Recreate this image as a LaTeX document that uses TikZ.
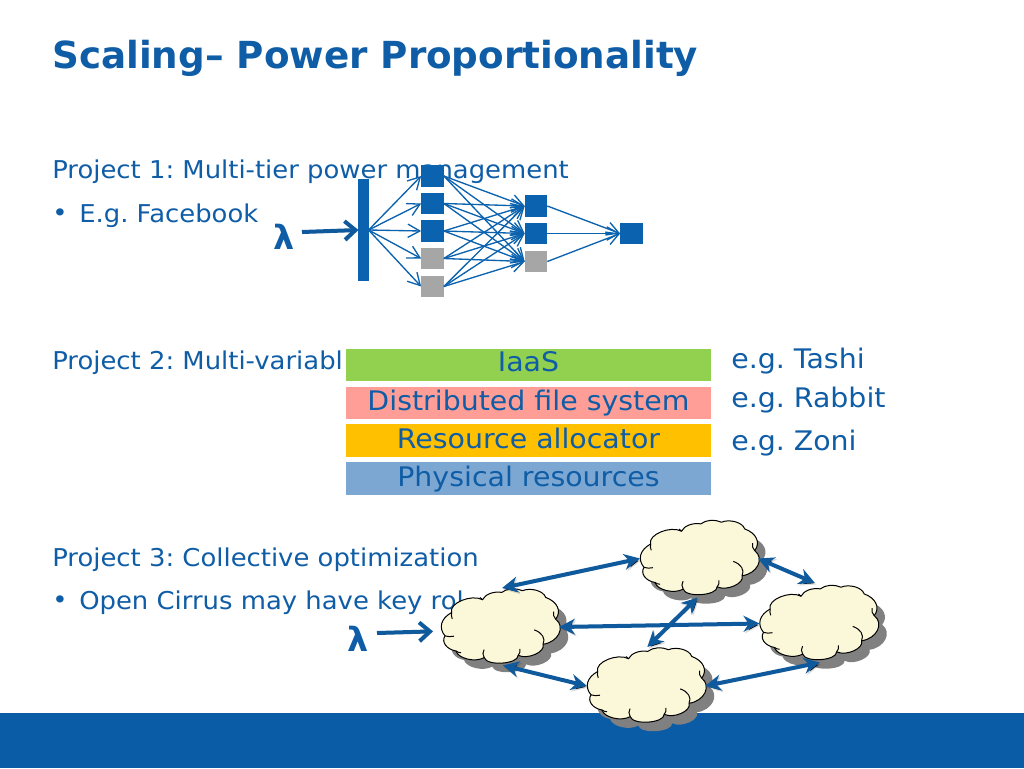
\documentclass[tikz,border=0pt]{standalone}
\usepackage{fontspec}
\setmainfont{DejaVu Sans}
\newfontfamily\vfont[FakeStretch=1.055]{DejaVu Sans}
\usetikzlibrary{arrows.meta,calc}
\definecolor{bluetxt}{HTML}{0F5DA6}
\definecolor{blueband}{HTML}{0B5CA6}
\definecolor{bluesq}{HTML}{0B62AE}
\definecolor{bluearr}{HTML}{0F5A9C}
\definecolor{graysq}{HTML}{A6A6A6}
\definecolor{cloudfill}{HTML}{FBF7D9}
\definecolor{cloudshadow}{HTML}{808080}
\definecolor{layerA}{RGB}{146,208,80}
\definecolor{layerB}{RGB}{255,158,150}
\definecolor{layerC}{RGB}{255,192,0}
\definecolor{layerD}{RGB}{124,167,210}
\tikzset{
  x=0.75pt,y=-0.75pt,
  txt/.style={anchor=base west,inner sep=0pt,text=bluetxt,font=\vfont\frenchspacing\fontsize{18.4}{20}\selectfont},
  bigtxt/.style={anchor=base west,inner sep=0pt,text=bluetxt,font=\vfont\frenchspacing\fontsize{20.2}{22}\selectfont},
  titletxt/.style={anchor=base west,inner sep=0pt,text=bluetxt,font=\frenchspacing\fontsize{27.95}{30}\selectfont\bfseries},
  lam/.style={anchor=base,inner sep=0pt,text=bluetxt,font=\fontsize{25}{27}\selectfont\bfseries},
  sq/.style={draw=none,fill=#1,minimum width=17pt,minimum height=16pt,inner sep=0pt,outer sep=0pt},
  bar/.style={fill=bluesq,minimum width=7.6pt,minimum height=76pt,inner sep=0pt,outer sep=0pt},
  layerbox/.style={fill=#1,minimum width=274pt,minimum height=24.5pt,inner sep=0pt,outer sep=0pt},
  layertxt/.style={anchor=base,inner sep=0pt,text=bluetxt,font=\vfont\frenchspacing\fontsize{20.2}{22}\selectfont},
  thin arrow/.style={draw=bluesq,line width=1pt,-{Straight Barb[length=9pt,width=10pt,line width=1pt]}},
  soft/.style={preaction={draw=black,draw opacity=.14,transform canvas={xshift=1pt,yshift=-1.2pt}}},
  big arrow/.style={soft,draw=bluearr,line width=3pt,-{Straight Barb[length=8pt,width=14pt,line width=3pt]}},
  link/.style={soft,draw=bluearr,line width=3pt,{Stealth[length=12pt,width=12pt]}-{Stealth[length=12pt,width=12pt]}},
  cloudbox/.style={minimum width=88.5pt,minimum height=58.5pt,inner sep=0pt,outer sep=0pt},
  cloudline/.style={draw=black,line width=0.75pt,fill=cloudfill},
  cloudnote/.style={draw=black,line width=0.75pt},
}
\newcommand{\cloudoutline}{
  (.09,.31) to[bend left=70] (.352,.148) to[bend left=42] (.515,.055) to[bend left=42] (.69,.034)
  to[bend left=55] (.887,.119) to[bend left=45] (.972,.394) to[bend left=60] (.865,.712)
  to[bend left=70] (.654,.852) to[bend left=85] (.366,.881) to[bend left=60] (.127,.797)
  to[bend left=50] (.034,.606) to[bend left=40] (.09,.31) -- cycle}
\newcommand{\cloudat}[3]{
  \begin{scope}[shift={(#2-59+8,#3-39+9)},xscale=118,yscale=79]
    \fill[cloudshadow] \cloudoutline;
  \end{scope}
  \begin{scope}[shift={(#2-59,#3-39)},xscale=118,yscale=79]
    \path[cloudline] \cloudoutline;
    \draw[cloudnote] (.034,.606) to[bend right=20] (.11,.61);
    \draw[cloudnote] (.127,.797) to[bend right=20] (.17,.82);
    \draw[cloudnote] (.366,.881) to[bend left=20] (.365,.78);
    \draw[cloudnote] (.654,.852) to[bend right=20] (.668,.77);
    \draw[cloudnote] (.865,.712) to[bend right=40] (.79,.53);
    \draw[cloudnote] (.972,.394) to[bend left=20] (.955,.30);
    \draw[cloudnote] (.352,.148) to[bend left=10] (.33,.12);
    \draw[cloudnote] (.09,.31) to[bend right=10] (.095,.39);
  \end{scope}
  \node[cloudbox] (#1) at (#2,#3) {};
}
\begin{document}
\begin{tikzpicture}
\useasboundingbox (0,0) rectangle (1024,768);
\fill[white] (0,0) rectangle (1024,768);
\fill[blueband] (0,713) rectangle (1024,768);

\node[titletxt] (title) at (52,68) {Scaling– Power Proportionality};
\node[txt] (p1) at (52,178) {Project 1: Multi-tier power management};
\node[txt] (p1a) at (52,221) {•};
\node[txt] (p1b) at (79,222) {E.g. Facebook};
\node[txt] (p2) at (52,369) {Project 2: Multi-variabl};
\node[txt] (p3) at (52,566) {Project 3: Collective optimization};
\node[txt] (p3a) at (52,608) {•};
\node[txt] (p3b) at (79,609) {Open Cirrus may have key rol};

% network
\node[bar] (bar) at (363.5,230) {};
\node[sq=bluesq] (a1) at (432.5,176) {};
\node[sq=bluesq] (a2) at (432.5,203.5) {};
\node[sq=bluesq] (a3) at (432.5,231) {};
\node[sq=graysq] (a4) at (432.5,258.5) {};
\node[sq=graysq] (a5) at (432.5,286.5) {};
\node[sq=bluesq] (b1) at (536,206) {};
\node[sq=bluesq] (b2) at (536,233.5) {};
\node[sq=graysq] (b3) at (536,261.5) {};
\node[sq=bluesq] (d1) at (631.5,233.5) {};
\foreach \t in {a1,a2,a3,a4,a5} \draw[thin arrow] (bar.east) -- (\t.west);
\foreach \s in {a1,a2,a3,a4,a5} \foreach \t in {b1,b2,b3} \draw[thin arrow] (\s.east) -- (\t.west);
\foreach \s in {b1,b2,b3} \draw[thin arrow] (\s.east) -- (d1.west);
\node[lam] (lam1) at (284,249) {λ};
\coordinate (lam1out) at (302,232);
\draw[big arrow] (lam1out) -- (bar.west);

% layers
\node[layerbox=layerA] (l1) at (528.5,365) {};
\node[layerbox=layerB] (l2) at (528.5,403) {};
\node[layerbox=layerC] (l3) at (528.5,440.5) {};
\node[layerbox=layerD] (l4) at (528.5,478.5) {};
\node[layertxt] (l1t) at (528.5,371.5) {IaaS};
\node[layertxt] (l2t) at (528.5,410) {Distributed file system};
\node[layertxt] (l3t) at (528.5,448) {Resource allocator};
\node[layertxt] (l4t) at (528.5,486) {Physical resources};
\node[bigtxt] (e1) at (731,368) {e.g. Tashi};
\node[bigtxt] (e2) at (731,407) {e.g. Rabbit};
\node[bigtxt] (e3) at (731,450) {e.g. Zoni};

% clouds
\cloudat{c1}{500}{627}
\cloudat{c2}{699}{558.5}
\cloudat{c3}{818.5}{623.5}
\cloudat{c4}{646}{686}
\draw[link] (c1.87) -- (c2.180);
\draw[link] (c1.0) -- (c3.180);
\draw[link,shorten <=-2pt] (c1.278) -- (c4.180);
\draw[link] (c2.268) -- (c4.88);
\draw[link,shorten >=3pt] (c2.0) -- (c3.90);
\draw[link] (c3.272) -- (c4.0);
\node[lam] (lam2) at (358,651) {λ};
\coordinate (lam2out) at (377,633);
\draw[big arrow,shorten >=6pt] (lam2out) -- (c1.184);
\end{tikzpicture}
\end{document}
